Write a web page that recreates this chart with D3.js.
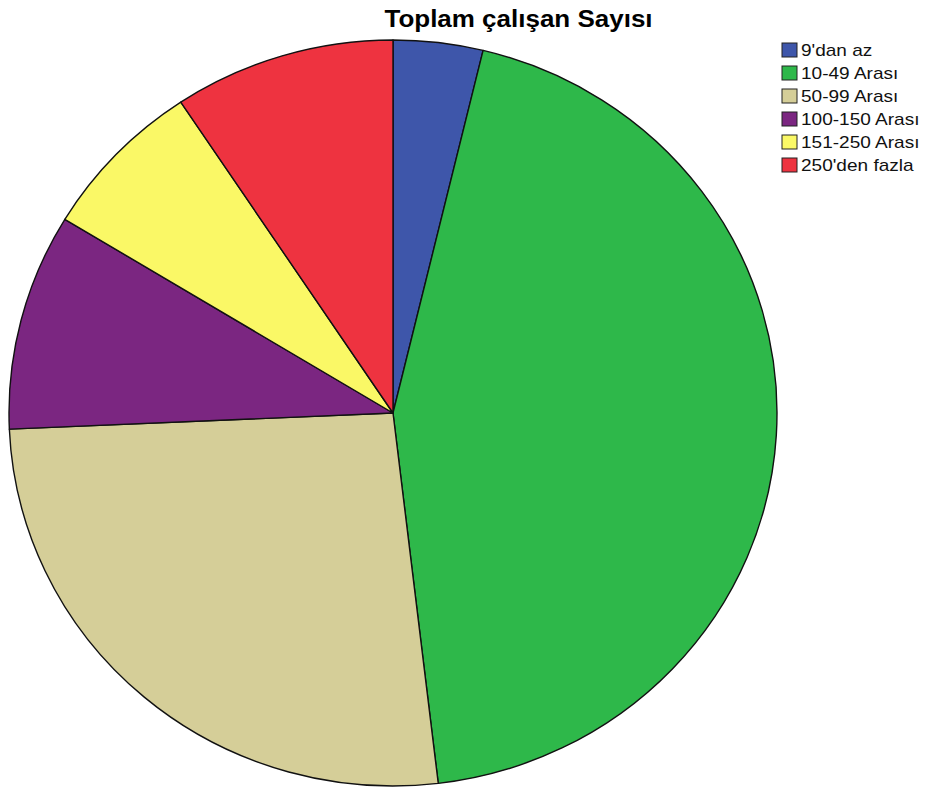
<!DOCTYPE html>
<html>
<head>
<meta charset="utf-8">
<script src="https://cdn.jsdelivr.net/npm/d3@7"></script>
<style>
  html, body { margin: 0; padding: 0; background: #fff; }
  svg { display: block; }
</style>
</head>
<body>
<svg id="chart" width="925" height="790"></svg>
<script>
const title = "Toplam çalışan Sayısı";
const categories = ["9'dan az", "10-49 Arası", "50-99 Arası", "100-150 Arası", "151-250 Arası", "250'den fazla"];
const values = [3.77, 44.35, 26.19, 9.38, 6.99, 9.32];
const colors = ["#3E56AA", "#2EB84A", "#D5CE98", "#7B2681", "#FAF866", "#EE3340"];

const svg = d3.select("#chart");
const W = 925, H = 790;
const cx = 393, cy = 413, rx = 384, ry = 373;

svg.append("rect").attr("width", W).attr("height", H).attr("fill", "#fff");

// Title
svg.append("text")
  .attr("transform", "translate(518.5,27) scale(1.13,1)")
  .attr("text-anchor", "middle")
  .attr("font-family", "Liberation Sans, Arial, sans-serif")
  .attr("font-weight", "bold")
  .attr("font-size", 23)
  .attr("fill", "#000")
  .text(title);

// Pie
const pie = d3.pie().sort(null).value(d => d);
const arc = d3.arc().innerRadius(0).outerRadius(ry);
const color = d3.scaleOrdinal().domain(categories).range(colors);

const g = svg.append("g")
  .attr("transform", `translate(${cx},${cy}) scale(${rx / ry},1)`);

g.selectAll("path")
  .data(pie(values))
  .join("path")
  .attr("d", arc)
  .attr("fill", (d, i) => color(categories[i]))
  .attr("stroke", "#111")
  .attr("stroke-width", 1.4)
  .attr("stroke-linejoin", "round")
  .attr("vector-effect", "non-scaling-stroke");

// Legend
const legend = svg.append("g").attr("transform", "translate(782,43)");
const rowH = 23;
const items = legend.selectAll("g")
  .data(categories)
  .join("g")
  .attr("transform", (d, i) => `translate(0,${i * rowH})`);

items.append("rect")
  .attr("width", 15).attr("height", 14)
  .attr("fill", d => color(d))
  .attr("stroke", "#222")
  .attr("stroke-width", 1);

items.append("text")
  .attr("transform", "translate(19,12.5) scale(1.12,1)")
  .attr("font-family", "Liberation Sans, Arial, sans-serif")
  .attr("font-size", 17)
  .attr("fill", "#111")
  .text(d => d);
</script>
</body>
</html>
